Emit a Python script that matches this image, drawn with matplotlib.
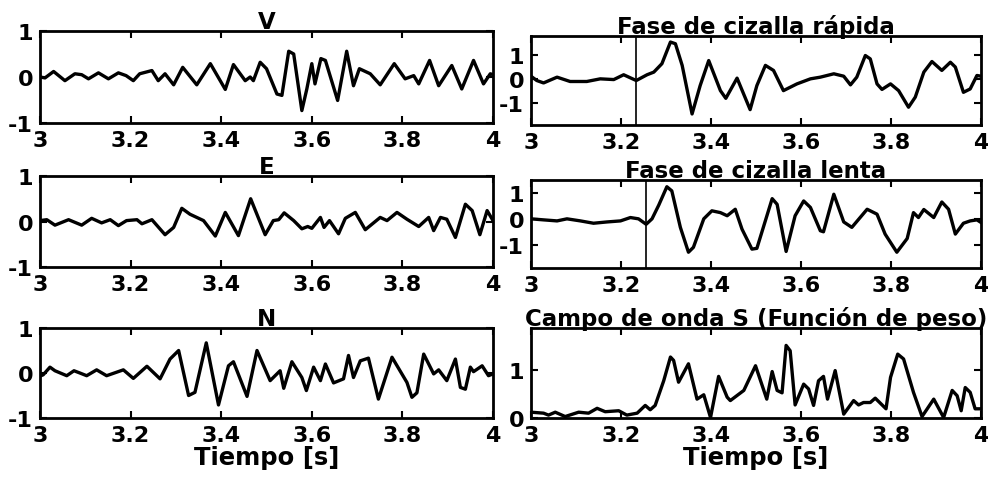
import numpy as np
import matplotlib
matplotlib.use("Agg")
import matplotlib.pyplot as plt

plt.rcParams['font.family'] = ['DejaVu Sans']
plt.rcParams['font.weight'] = 'bold'
plt.rcParams['axes.unicode_minus'] = False

# --- three-component records ---
t_v = [3.0, 3.011, 3.03, 3.055, 3.077, 3.092, 3.107, 3.129, 3.151, 3.173, 3.19, 3.206, 3.22, 3.247,
       3.261, 3.276, 3.295, 3.315, 3.346, 3.376, 3.409, 3.427, 3.453, 3.464, 3.471, 3.486, 3.5, 3.523,
       3.534, 3.549, 3.56, 3.578, 3.589, 3.6, 3.607, 3.62, 3.63, 3.657, 3.677, 3.692, 3.705, 3.729,
       3.751, 3.782, 3.806, 3.825, 3.836, 3.86, 3.88, 3.909, 3.931, 3.957, 3.979, 3.994, 4.0]
v = [0.0, -0.02, 0.12, -0.08, 0.07, 0.05, -0.04, 0.09, -0.04, 0.09, 0.03, -0.08, 0.07, 0.14,
     -0.08, 0.07, -0.17, 0.21, -0.17, 0.29, -0.27, 0.27, -0.08, 0.0, -0.08, 0.32, 0.18, -0.37,
     -0.4, 0.56, 0.5, -0.73, -0.26, 0.29, -0.15, 0.4, 0.36, -0.51, 0.56, -0.19, 0.18, 0.07,
     -0.17, 0.29, -0.04, 0.03, -0.15, 0.36, -0.19, 0.25, -0.26, 0.36, -0.15, 0.07, 0.05]

t_e = [3.0, 3.015, 3.033, 3.063, 3.092, 3.114, 3.136, 3.155, 3.173, 3.191, 3.214, 3.225, 3.247,
       3.276, 3.295, 3.313, 3.331, 3.361, 3.387, 3.409, 3.438, 3.465, 3.497, 3.515, 3.527, 3.539,
       3.56, 3.578, 3.591, 3.6, 3.619, 3.627, 3.639, 3.659, 3.674, 3.696, 3.718, 3.751, 3.766,
       3.788, 3.81, 3.836, 3.858, 3.869, 3.884, 3.898, 3.917, 3.939, 3.954, 3.971, 3.987, 4.0]
e = [0.02, 0.04, -0.08, 0.04, -0.08, 0.07, -0.03, 0.04, -0.09, 0.02, 0.04, -0.05, 0.04,
     -0.29, -0.13, 0.29, 0.16, 0.02, -0.32, 0.2, -0.31, 0.5, -0.29, 0.02, 0.04, 0.19,
     0.02, -0.16, -0.11, -0.15, 0.09, -0.13, 0.02, -0.27, 0.07, 0.2, -0.18, 0.09, 0.02,
     0.2, 0.05, -0.11, 0.09, -0.2, 0.09, 0.05, -0.35, 0.38, 0.24, -0.29, 0.24, 0.02]

t_n = [3.0, 3.007, 3.022, 3.033, 3.059, 3.075, 3.088, 3.103, 3.125, 3.147, 3.184, 3.206, 3.236,
       3.265, 3.287, 3.306, 3.328, 3.342, 3.367, 3.394, 3.416, 3.427, 3.457, 3.479, 3.508, 3.53,
       3.538, 3.556, 3.578, 3.588, 3.604, 3.619, 3.63, 3.648, 3.67, 3.681, 3.692, 3.707, 3.725,
       3.747, 3.777, 3.81, 3.821, 3.832, 3.847, 3.869, 3.88, 3.898, 3.917, 3.928, 3.939, 3.95,
       3.957, 3.976, 3.99, 4.0]
n = [-0.07, -0.04, 0.13, 0.05, -0.06, 0.05, 0.0, -0.06, 0.07, -0.06, 0.07, -0.12, 0.15,
     -0.13, 0.31, 0.5, -0.5, -0.43, 0.67, -0.71, 0.16, 0.25, -0.52, 0.5, -0.17, 0.05,
     -0.34, 0.25, -0.1, -0.39, 0.13, -0.17, 0.2, -0.22, -0.13, 0.39, -0.1, 0.27, 0.33,
     -0.58, 0.35, -0.21, -0.54, -0.44, 0.42, -0.02, 0.07, -0.17, 0.31, -0.32, -0.36, 0.13,
     0.03, 0.16, -0.06, -0.02]

# --- rotated shear phases ---
t_fast = [3.0, 3.013, 3.028, 3.058, 3.087, 3.124, 3.154, 3.184, 3.206, 3.234, 3.258, 3.273, 3.291,
          3.31, 3.321, 3.336, 3.358, 3.376, 3.395, 3.421, 3.433, 3.458, 3.487, 3.502, 3.521, 3.539,
          3.561, 3.591, 3.621, 3.643, 3.673, 3.695, 3.71, 3.724, 3.743, 3.754, 3.769, 3.78, 3.799,
          3.817, 3.839, 3.854, 3.873, 3.891, 3.913, 3.932, 3.943, 3.961, 3.976, 3.991, 4.0]
fast = [0.11, -0.07, -0.17, 0.07, -0.11, -0.11, 0.0, -0.03, 0.17, -0.07, 0.17, 0.28, 0.63,
        1.53, 1.46, 0.56, -1.46, -0.28, 0.76, -0.49, -0.81, 0.03, -1.28, -0.28, 0.56, 0.35,
        -0.49, -0.21, 0.0, 0.07, 0.21, 0.11, -0.25, 0.07, 0.97, 0.83, -0.21, -0.44, -0.21,
        -0.49, -1.18, -0.76, 0.28, 0.72, 0.35, 0.69, 0.49, -0.56, -0.42, 0.14, 0.11]
t_fast_onset = 3.233

t_slow = [3.0, 3.028, 3.058, 3.08, 3.11, 3.139, 3.169, 3.199, 3.221, 3.239, 3.256, 3.269, 3.284,
          3.302, 3.313, 3.332, 3.35, 3.361, 3.384, 3.402, 3.421, 3.436, 3.454, 3.469, 3.491, 3.502,
          3.536, 3.547, 3.567, 3.587, 3.606, 3.621, 3.643, 3.65, 3.673, 3.695, 3.713, 3.747, 3.769,
          3.787, 3.813, 3.836, 3.85, 3.861, 3.873, 3.895, 3.913, 3.928, 3.943, 3.961, 3.976, 3.991,
          4.0]
slow = [0.0, -0.04, -0.08, 0.0, -0.08, -0.17, -0.12, -0.08, 0.05, 0.0, -0.21, 0.0, 0.53,
        1.24, 1.08, -0.33, -1.29, -1.1, 0.0, 0.31, 0.24, 0.12, 0.37, -0.4, -1.17, -1.14,
        0.78, 0.56, -1.26, 0.12, 0.69, 0.44, -0.46, -0.5, 0.95, -0.12, -0.33, 0.37, 0.18,
        -0.59, -1.29, -0.76, 0.24, 0.05, 0.36, 0.05, 0.65, 0.37, -0.59, -0.17, -0.08, -0.04,
        -0.14]
t_slow_onset = 3.255

t_w = [3.0, 3.028, 3.039, 3.054, 3.076, 3.106, 3.128, 3.147, 3.165, 3.195, 3.213, 3.236, 3.254,
       3.265, 3.276, 3.295, 3.31, 3.317, 3.328, 3.35, 3.369, 3.384, 3.399, 3.417, 3.436, 3.443,
       3.473, 3.499, 3.524, 3.536, 3.547, 3.558, 3.567, 3.576, 3.587, 3.606, 3.617, 3.628, 3.639,
       3.65, 3.659, 3.676, 3.695, 3.717, 3.728, 3.739, 3.754, 3.765, 3.789, 3.799, 3.815, 3.828,
       3.85, 3.869, 3.895, 3.917, 3.936, 3.947, 3.956, 3.965, 3.976, 3.987, 4.0]
w = [0.12, 0.1, 0.06, 0.12, 0.03, 0.12, 0.1, 0.2, 0.13, 0.15, 0.06, 0.1, 0.26,
     0.17, 0.26, 0.77, 1.26, 1.19, 0.74, 1.12, 0.39, 0.48, 0.01, 0.86, 0.43, 0.36,
     0.57, 1.08, 0.39, 0.96, 0.57, 0.52, 1.5, 1.39, 0.27, 0.7, 0.6, 0.26, 0.77,
     0.86, 0.39, 0.98, 0.08, 0.36, 0.27, 0.32, 0.32, 0.41, 0.19, 0.84, 1.32, 1.22,
     0.53, 0.03, 0.39, 0.01, 0.57, 0.46, 0.15, 0.63, 0.53, 0.19, 0.19]

xticks = [3, 3.2, 3.4, 3.6, 3.8, 4]
xticklabels = ['3', '3.2', '3.4', '3.6', '3.8', '4']

fig = plt.figure(figsize=(9.88, 4.81), dpi=100)

# [left, bottom, width, height] in figure fractions
boxes = {
    'V': [0.0405, 0.7422, 0.4585, 0.1913],
    'E': [0.0405, 0.4428, 0.4585, 0.1892],
    'N': [0.0405, 0.1289, 0.4585, 0.1871],
    'fast': [0.5374, 0.738, 0.4555, 0.185],
    'slow': [0.5374, 0.4407, 0.4555, 0.183],
    'w': [0.5374, 0.1289, 0.4555, 0.1871],
}

panels = [
    ('V', t_v, v, 'V', (-1, 1), [-1, 0, 1], None),
    ('E', t_e, e, 'E', (-1, 1), [-1, 0, 1], None),
    ('N', t_n, n, 'N', (-1, 1), [-1, 0, 1], None),
    ('fast', t_fast, fast, 'Fase de cizalla rápida', (-1.92, 1.78), [-1, 0, 1], t_fast_onset),
    ('slow', t_slow, slow, 'Fase de cizalla lenta', (-1.9, 1.5), [-1, 0, 1], t_slow_onset),
    ('w', t_w, w, 'Campo de onda S (Función de peso)', (0, 1.86), [0, 1], None),
]

for key, t, y, title, ylim, yticks, onset in panels:
    ax = fig.add_axes(boxes[key])
    ax.plot(t, y, color='black', lw=2.4, solid_joinstyle='round')
    if onset is not None:
        ax.axvline(onset, color='black', lw=1.2)
    ax.set_xlim(3, 4)
    ax.set_ylim(*ylim)
    ax.set_xticks(xticks)
    ax.set_xticklabels(xticklabels)
    ax.set_yticks(yticks)
    ax.tick_params(direction='in', top=True, right=True, length=5, width=1.5,
                   labelsize=16, pad=5)
    for lab in ax.get_xticklabels() + ax.get_yticklabels():
        lab.set_fontweight('bold')
    for s in ax.spines.values():
        s.set_linewidth(2)
    ax.set_title(title, fontsize=16.5, fontweight='bold', pad=2)
    if key in ('N', 'w'):
        ax.set_xlabel('Tiempo [s]', fontsize=17.5, fontweight='bold', labelpad=0)

fig.savefig('out.png', dpi=100)
